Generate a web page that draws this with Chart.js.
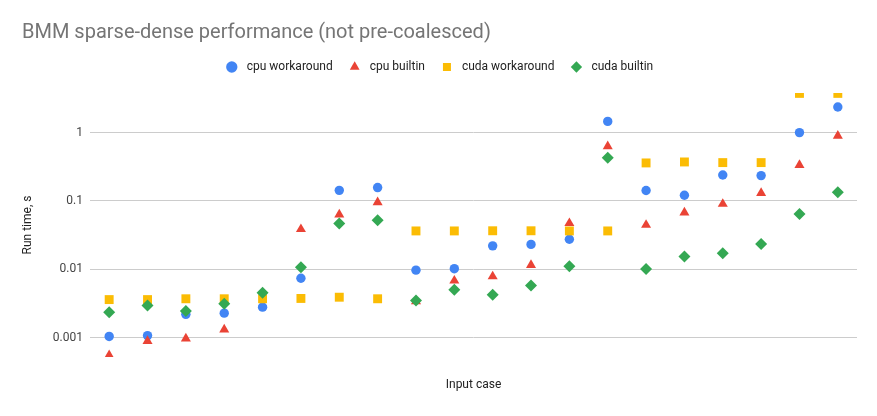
<!DOCTYPE html>
<html>
<head>
<meta charset="utf-8">
<script src="https://cdn.jsdelivr.net/npm/chart.js@4/dist/chart.umd.min.js"></script>
<style>
  html, body { margin: 0; padding: 0; background: #ffffff; }
  #wrap { width: 877px; height: 416px; }
</style>
</head>
<body>
<div id="wrap"><canvas id="c" width="877" height="416"></canvas></div>
<script>
// ---- data ----
const categories = ['Case 1','Case 2','Case 3','Case 4','Case 5','Case 6','Case 7','Case 8','Case 9','Case 10',
                    'Case 11','Case 12','Case 13','Case 14','Case 15','Case 16','Case 17','Case 18','Case 19','Case 20'];
const cpuWorkaround  = [0.00104, 0.00107, 0.00219, 0.00228, 0.00279, 0.0074, 0.143, 0.157, 0.0097, 0.0102,
                        0.022, 0.0231, 0.0275, 1.46, 0.142, 0.121, 0.24, 0.235, 1.0, 2.37];
const cpuBuiltin     = [0.00055, 0.00089, 0.00097, 0.00131, null, 0.0386, 0.063, 0.0957, 0.0034, 0.0068,
                        0.00785, 0.0115, 0.0472, 0.63, 0.0445, 0.0676, 0.0904, 0.130, 0.336, 0.90];
const cudaWorkaround = [0.0036, 0.0036, 0.0037, 0.0037, 0.0037, 0.00374, 0.0039, 0.0037, 0.0364, 0.0364,
                        0.0366, 0.0366, 0.0364, 0.0364, 0.36, 0.372, 0.364, 0.364, 3.75, 3.75];
const cudaBuiltin    = [0.00234, 0.00295, 0.00246, 0.00312, 0.00452, 0.0107, 0.0467, 0.0522, 0.0035, 0.0050,
                        0.00422, 0.0058, 0.0111, 0.43, 0.0101, 0.0154, 0.0172, 0.0235, 0.0646, 0.134];
const seriesNames = ['cpu workaround', 'cpu builtin', 'cuda workaround', 'cuda builtin'];
const yTicks = [0.001, 0.01, 0.1, 1];
const titleText = 'BMM sparse-dense performance (not pre-coalesced)';
const xTitle = 'Input case';
const yTitle = 'Run time, s';

// ---- styling ----
const FONT = 'Roboto, "Liberation Sans", Arial, sans-serif';
const LEGEND_H = 48;

const legendSpace = {
  id: 'legendSpace',
  beforeUpdate(chart) {
    const lg = chart.legend;
    if (lg && !lg._fixed) {
      const f = lg.fit;
      lg.fit = function () { f.call(this); this.height = LEGEND_H; };
      lg._fixed = true;
    }
  }
};

function ds(label, data, color, style, radius, order) {
  return {
    label, data,
    backgroundColor: color, borderColor: color, borderWidth: 0,
    pointStyle: style, pointRadius: radius, pointHoverRadius: radius,
    pointBorderWidth: 0, showLine: false, clip: 0, order
  };
}

new Chart(document.getElementById('c'), {
  type: 'line',
  data: {
    labels: categories,
    datasets: [
      ds(seriesNames[0], cpuWorkaround,  '#4285F4', 'circle',   4.7, 3),
      ds(seriesNames[1], cpuBuiltin,     '#EA4335', 'triangle', 5.8, 2),
      ds(seriesNames[2], cudaWorkaround, '#FBBC04', 'rect',     6.3, 1),
      ds(seriesNames[3], cudaBuiltin,    '#34A853', 'rectRot',  6.0, 0)
    ]
  },
  plugins: [legendSpace],
  options: {
    responsive: false,
    animation: false,
    devicePixelRatio: 1,
    layout: { padding: { left: 22, right: 20, top: 0, bottom: 0 } },
    plugins: {
      title: {
        display: true, text: titleText, align: 'start', color: '#757575',
        font: { family: FONT, size: 20, weight: 'normal' },
        padding: { top: 21, bottom: 0 }
      },
      legend: {
        display: true, position: 'top', align: 'center',
        labels: {
          usePointStyle: true, boxWidth: 12, boxHeight: 8, padding: 16,
          color: '#222222', font: { family: FONT, size: 12 },
          sort: (a, b) => a.datasetIndex - b.datasetIndex,
          generateLabels(chart) {
            const items = Chart.defaults.plugins.legend.labels.generateLabels(chart);
            items.forEach(it => { it.text = ' ' + it.text; it.lineWidth = 0; });
            return items;
          }
        }
      },
      tooltip: { enabled: false }
    },
    scales: {
      x: {
        type: 'category', offset: true,
        grid: { display: false, drawTicks: false },
        border: { display: false },
        ticks: { display: false },
        title: { display: true, text: xTitle, color: '#222222',
                 font: { family: FONT, size: 12 }, padding: { top: 0, bottom: 24 } },
        afterFit(scale) { scale.height = 59; }
      },
      y: {
        type: 'logarithmic', min: 0.00052, max: 3.8,
        grid: { color: '#cccccc', lineWidth: 1, drawTicks: false },
        border: { display: false },
        afterBuildTicks(scale) { scale.ticks = yTicks.map(v => ({ value: v, major: true })); },
        ticks: {
          color: '#444444', font: { family: FONT, size: 12 }, padding: 7,
          callback: (v) => String(v)
        },
        title: { display: true, text: yTitle, color: '#222222',
                 font: { family: FONT, size: 12, lineHeight: 1 }, padding: { top: 0, bottom: 0 } },
        afterFit(scale) { scale.width = 68; }
      }
    }
  }
});
</script>
</body>
</html>
